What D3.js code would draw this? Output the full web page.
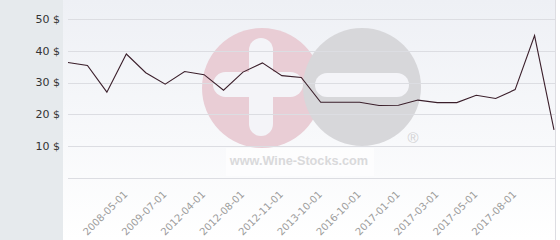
<!DOCTYPE html>
<html><head><meta charset="utf-8">
<script src="https://cdn.jsdelivr.net/npm/d3@7"></script>
<style>html,body{margin:0;padding:0;background:#fff;}svg{display:block;}</style>
</head><body>
<script>
const categories = ["2006-11-01","2007-03-01","2007-10-01","2008-05-01","2008-11-01","2009-07-01","2010-06-01","2012-04-01","2012-06-01","2012-08-01","2012-10-01","2012-11-01","2013-03-01","2013-10-01","2015-04-01","2016-10-01","2016-12-01","2017-01-01","2017-02-01","2017-03-01","2017-04-01","2017-05-01","2017-06-01","2017-08-01","2017-09-01","2017-10-01"];
const prices = [36.3,35.4,27.0,39.0,33.1,29.5,33.5,32.5,27.6,33.3,36.2,32.2,31.6,23.8,23.8,23.8,22.8,22.9,24.5,23.7,23.7,26.0,25.0,27.8,44.8,15.1];
const tickLabels = ["2008-05-01","2009-07-01","2012-04-01","2012-08-01","2012-11-01","2013-10-01","2016-10-01","2017-01-01","2017-03-01","2017-05-01","2017-08-01"];
const yTicks = [0,10,20,30,40,50];

const W = 560, H = 240;
const svg = d3.select("body").append("svg").attr("width", W).attr("height", H);
const defs = svg.append("defs");
const grad = defs.append("linearGradient").attr("id","bg").attr("x1",0).attr("y1",0).attr("x2",0).attr("y2",1);
grad.append("stop").attr("offset","0%").attr("stop-color","#eef0f5");
grad.append("stop").attr("offset","100%").attr("stop-color","#ffffff");

// left panel
svg.append("rect").attr("x",0).attr("y",0).attr("width",63).attr("height",H).attr("fill","#e6eaed");
// plot background
svg.append("rect").attr("x",63).attr("y",0).attr("width",492).attr("height",H).attr("fill","url(#bg)");
svg.append("line").attr("x1",555.5).attr("x2",555.5).attr("y1",0).attr("y2",H).attr("stroke","#dddde2");

const x = d3.scalePoint().domain(categories).range([68, 554]);
const y = d3.scaleLinear().domain([0, 50]).range([178, 19]);

// watermark
const wm = svg.append("g");
wm.append("circle").attr("cx",262).attr("cy",88).attr("r",60).attr("fill","#e9cdd5");
wm.append("circle").attr("cx",362).attr("cy",87).attr("r",59).attr("fill","#d7d7da");
wm.append("rect").attr("x",249).attr("y",38).attr("width",24).attr("height",98).attr("rx",12).attr("fill","#f4f4f8");
wm.append("rect").attr("x",213).attr("y",72).attr("width",90).attr("height",25).attr("rx",12.5).attr("fill","#f4f4f8");
wm.append("rect").attr("x",315).attr("y",73).attr("width",94).attr("height",24).attr("rx",12).attr("fill","#f4f4f8");
wm.append("text").attr("x",413).attr("y",143).attr("text-anchor","middle").attr("font-family","Liberation Sans, Arial, sans-serif").attr("font-size",15).attr("fill","#d2d2d4").text("®");
wm.append("rect").attr("x",226).attr("y",148).attr("width",148).attr("height",28).attr("fill","#ffffff").attr("opacity",0.6);
wm.append("text").attr("x",299).attr("y",165).attr("text-anchor","middle").attr("font-family","Liberation Sans, Arial, sans-serif").attr("font-weight","bold").attr("font-size",12.7).attr("fill","#d9d9db").text("www.Wine-Stocks.com");

// gridlines + y labels
svg.append("g").selectAll("line").data(yTicks).join("line")
  .attr("x1",68).attr("x2",555).attr("y1",d=>Math.round(y(d))+0.5).attr("y2",d=>Math.round(y(d))+0.5)
  .attr("stroke","#dcdde2").attr("stroke-width",1);
svg.append("g").selectAll("text").data(yTicks.filter(d=>d>0)).join("text")
  .attr("x",60).attr("y",d=>y(d)).attr("dy","0.35em").attr("text-anchor","end")
  .attr("font-family","DejaVu Sans, sans-serif").attr("font-size",11).attr("fill","#333")
  .text(d=>d+" $");

// x labels
svg.append("g").selectAll("text").data(tickLabels).join("text")
  .attr("transform",d=>`translate(${x(d)+2},195) rotate(-45)`)
  .attr("text-anchor","end")
  .attr("font-family","DejaVu Sans, sans-serif").attr("font-size",10).attr("fill","#9c9c9c")
  .text(d=>d);

// line
const line = d3.line().x((d,i)=>x(categories[i])).y(d=>y(d));
svg.append("path").datum(prices).attr("d",line).attr("fill","none")
  .attr("stroke","#3b1f2b").attr("stroke-width",1.1).attr("stroke-linejoin","miter");
</script>
</body></html>
